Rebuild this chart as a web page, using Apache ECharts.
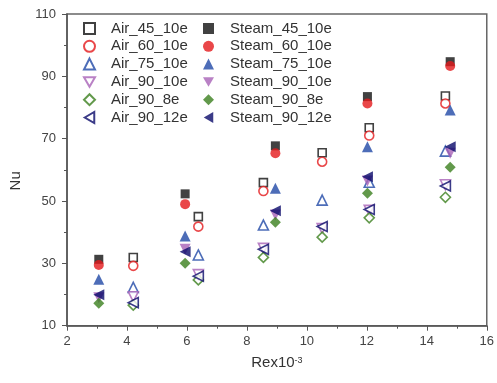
<!DOCTYPE html>
<html><head><meta charset="utf-8">
<script src="https://cdn.jsdelivr.net/npm/echarts@6/dist/echarts.min.js"></script>
<style>html,body{margin:0;padding:0;background:#fff}#c{width:497px;height:383px}</style>
</head><body><div id="c"></div>
<script>
const airX = [4.21, 6.38, 8.55, 10.51, 12.08, 14.62];
const steamX = [3.06, 5.94, 8.95, 12.02, 14.78];

const air_45_10e = [31.9, 45.0, 55.9, 65.5, 73.5, 83.7];
const air_60_10e = [29.2, 41.8, 53.2, 62.6, 71.0, 81.3];
const air_75_10e = [22.3, 32.7, 42.3, 50.3, 56.0, 66.0];
const air_90_10e = [19.3, 26.4, 34.8, 41.2, 47.0, 55.2];
const air_90_8e  = [16.6, 24.7, 31.9, 38.4, 44.6, 51.2];
const air_90_12e = [17.4, 25.9, 34.5, 41.8, 47.3, 54.8];

const steam_45_10e = [31.3, 52.3, 67.7, 83.5, 94.7];
const steam_60_10e = [29.5, 49.0, 65.3, 81.3, 93.3];
const steam_75_10e = [24.9, 38.8, 54.1, 67.4, 79.2];
const steam_90_10e = [19.0, 34.5, 45.5, 56.4, 65.3];
const steam_90_8e  = [17.2, 30.0, 43.2, 52.5, 60.8];
const steam_90_12e = [19.9, 33.7, 46.9, 57.8, 67.4];

const airNames = ['Air_45_10e','Air_60_10e','Air_75_10e','Air_90_10e','Air_90_8e','Air_90_12e'];
const steamNames = ['Steam_45_10e','Steam_60_10e','Steam_75_10e','Steam_90_10e','Steam_90_8e','Steam_90_12e'];
const airData = [air_45_10e, air_60_10e, air_75_10e, air_90_10e, air_90_8e, air_90_12e];
const steamData = [steam_45_10e, steam_60_10e, steam_75_10e, steam_90_10e, steam_90_8e, steam_90_12e];

const colors = ['#111111','#e3191c','#2148a6','#a862b6','#3b7f1e','#0a0a6a'];
const DOWN = 'path://M0,0 L10,0 L5,8.66 Z';
const LEFT = 'path://M0,5 L8.66,0 L8.66,10 Z';
const symbols = ['rect','circle','triangle',DOWN,'diamond',LEFT];
const sizes = [8, 9, 10, 10, 10, 10];
const steamSizes = [9, 10, 11, 11, 11, 11];

function pts(xs, ys){ return xs.map((x,i)=>[x, ys[i]]); }

const series = [];
airNames.forEach((n,i)=>{
  series.push({name:n, type:'scatter', data:pts(airX, airData[i]), symbol:symbols[i], symbolSize:sizes[i],
    itemStyle:{color:'#ffffff', borderColor:colors[i], borderWidth:1.6}, z: 2});
});
steamNames.forEach((n,i)=>{
  series.push({name:n, type:'scatter', data:pts(steamX, steamData[i]), symbol:symbols[i], symbolSize:steamSizes[i],
    itemStyle:{color:colors[i], borderWidth:0}, z: 3});
});

const legendText = {fontSize:15, color:'#333', padding:[0,0,0,11], fontFamily:'Liberation Sans, Arial, sans-serif'};
const chart = echarts.init(document.getElementById('c'), null, {renderer:'canvas'});
chart.setOption({
  animation:false,
  backgroundColor:'#fff',
  grid:{left:66.7, right:4.3, top:14, bottom:57.3, show:true, borderColor:'#666', borderWidth:1.5},
  legend:[
    {data:airNames, orient:'vertical', left:83, top:21, padding:0, itemWidth:11, itemHeight:11, itemGap:2.8, textStyle:legendText, selectedMode:false},
    {data:steamNames, orient:'vertical', left:203, top:21, padding:0, itemWidth:11, itemHeight:11, itemGap:2.8, textStyle:legendText, selectedMode:false}
  ],
  xAxis:{type:'value', min:2, max:16, interval:2,
    name:'{a|Rex10}{b|-3}', nameLocation:'middle', nameGap:30,
    nameTextStyle:{rich:{a:{fontSize:15, color:'#333', fontFamily:'Liberation Sans, Arial, sans-serif'}, b:{fontSize:9, color:'#333', verticalAlign:'top', fontFamily:'Liberation Sans, Arial, sans-serif'}}},
    axisLine:{lineStyle:{color:'#555', width:1.5}},
    axisTick:{length:5, lineStyle:{color:'#555'}},
    minorTick:{show:true, splitNumber:2, length:3, lineStyle:{color:'#555'}},
    axisLabel:{fontSize:13, color:'#444', margin:9, fontFamily:'Liberation Sans, Arial, sans-serif'},
    splitLine:{show:false}},
  yAxis:{type:'value', min:10, max:110, interval:20,
    name:'Nu', nameLocation:'middle', nameGap:44,
    nameTextStyle:{fontSize:15, color:'#333', padding:[0,22,0,0], fontFamily:'Liberation Sans, Arial, sans-serif'},
    axisLine:{lineStyle:{color:'#555', width:1.5}},
    axisTick:{length:5, lineStyle:{color:'#555'}},
    minorTick:{show:true, splitNumber:2, length:3, lineStyle:{color:'#555'}},
    axisLabel:{fontSize:13, color:'#444', margin:11, fontFamily:'Liberation Sans, Arial, sans-serif'},
    splitLine:{show:false}},
  series:series
});
</script></body></html>
